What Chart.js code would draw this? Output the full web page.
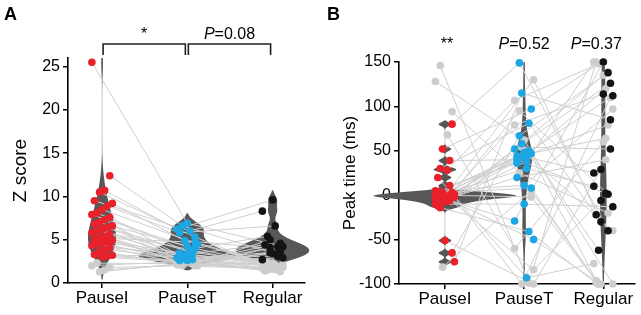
<!DOCTYPE html>
<html>
<head>
<meta charset="utf-8">
<script src="https://cdn.jsdelivr.net/npm/chart.js@4.4.1/dist/chart.umd.min.js"></script>
<style>
  html, body { margin: 0; padding: 0; background: #fff; }
  #wrap { position: relative; width: 641px; height: 315px; }
  .pane { position: absolute; top: 0; height: 315px; }
</style>
</head>
<body>
<div id="wrap">
  <div class="pane" style="left:0;width:320px"><canvas id="panelA"></canvas></div>
  <div class="pane" style="left:320px;width:321px"><canvas id="panelB"></canvas></div>
</div>
<script>
const categories = ['PauseI', 'PauseT', 'Regular'];
const zTicks = [0, 5, 10, 15, 20, 25];
const tTicks = [-100, -50, 0, 50, 100, 150];
const sigLabelsA = ['*', 'P=0.08'];
const sigLabelsB = ['**', 'P=0.52', 'P=0.37'];
const Z_SIG = 2.5;

// one entry per neuron (same order in every array)
const zPauseI = [25.5, 12.4, 10.7, 10.5, 9.5, 9.2, 8.9, 8.5, 8.1, 7.9, 7.6, 7.3, 7.0, 6.8, 6.6, 6.4, 6.2, 6.0, 5.8, 5.6,
                 5.4, 5.2, 5.0, 4.9, 4.8, 4.6, 4.5, 4.3, 4.1, 3.9, 3.6, 3.3, 3.2, 3.1, 3.0, 2.3, 2.0, 1.8, 1.5, 1.3];
const zPauseT = [6.9, 6.6, 6.2, 5.3, 6.0, 4.9, 5.8, 4.5, 3.4, 4.2, 3.0, 2.2, 4.0, 3.6, 2.8, 3.2, 2.0, 3.8, 2.6, 3.1,
                 2.4, 4.7, 2.9, 2.3, 3.5, 2.1, 2.7, 3.3, 2.2, 2.9, 2.0, 3.0, 2.4, 2.6, 2.3, 2.2, 2.5, 2.0, 2.1, 2.4];
const zRegular = [4.2, 3.3, 9.6, 2.0, 8.3, 3.9, 6.6, 2.2, 4.4, 1.8, 3.1, 1.6, 5.4, 2.4, 3.6, 1.9, 4.1, 2.1, 2.9, 1.5,
                  3.4, 2.3, 1.7, 4.6, 2.0, 3.5, 1.4, 2.2, 4.2, 1.9, 2.4, 2.7, 1.3, 2.1, 5.0, 1.8, 2.0, 1.6, 2.3, 1.5];

// peak time (ms)
const tPauseI = [2, 80, -5, 52, 0, -75, 39, -3, 30, 5, -65, 28, -8, 20, -1, 11, -51, 4, -10, 3,
                 -2, 3, -12, 1, -6, 0, -14, -4, 2, -7, 0, -1, -2, -3, -1, 146, 128, 94, 68, -81];
const tPauseT = [45, 149, -29, 97, 43, 115, 40, -50, 81, 11, 67, 107, 47, -93, 58, 36, -100, 50, -10, 42,
                 79, 8, 38, 54, 44, -84, -41, 48, 95, 52, -2, 30, -100, 20, 130, -99, 62, 25, -60, 5];
const tRegular = [112, -40, 150, 148, 25, 85, 2, -100, -22, 97, 138, 150, -62, -77, 126, 120, 29, -96, -13, 79,
                  114, -100, 150, 52, 64, -6, -99, -40, 1, 135, -100, 10, 110, 40, -30, 150, -100, -20, 60, -100];

const groupColors = ['#e8212b', '#1ca7e4', '#141414'];
const FONT = '"Liberation Sans", Arial, Helvetica, sans-serif';
Chart.defaults.font.family = FONT;
Chart.defaults.font.size = 16;
Chart.defaults.color = '#000';

function median(a) {
  const s = [...a].sort((p, q) => p - q), m = s.length >> 1;
  return s.length % 2 ? s[m] : (s[m - 1] + s[m]) / 2;
}
function bandwidth(vals) {
  const med = median(vals);
  const sig = median(vals.map(v => Math.abs(v - med))) / 0.6745;
  return sig * Math.pow(4 / (3 * vals.length), 0.2);
}
function density(vals, h, y) {
  let s = 0;
  for (const v of vals) { const u = (y - v) / h; s += Math.exp(-0.5 * u * u); }
  return s / (h * Math.sqrt(2 * Math.PI));
}

const violinPlugin = {
  id: 'violins',
  beforeDatasetsDraw(chart, args, opts) {
    const { ctx, scales: { x, y } } = chart;
    const pxPerUnit = Math.abs(y.getPixelForValue(1) - y.getPixelForValue(0));
    opts.groups.forEach((vals, c) => {
      const cx = x.getPixelForValue(c + 1);
      const h = bandwidth(vals) * opts.bw[c];
      const vmin = Math.min(...vals), vmax = Math.max(...vals);
      ctx.save();
      ctx.strokeStyle = '#d2d2d2';
      ctx.lineWidth = 1.2;
      ctx.beginPath();
      ctx.moveTo(cx, y.getPixelForValue(vmin));
      ctx.lineTo(cx, y.getPixelForValue(vmax));
      ctx.stroke();
      const top = y.getPixelForValue(Math.min(vmax + 2 * h, y.max));
      const bot = y.getPixelForValue(Math.max(vmin - 2 * h, y.min));
      const side = [];
      for (let py = top; py <= bot; py += 0.5) {
        side.push([py, density(vals, h, y.getValueForPixel(py)) / pxPerUnit * opts.scale[c]]);
      }
      ctx.beginPath();
      side.forEach(([py, w], k) => k ? ctx.lineTo(cx + w, py) : ctx.moveTo(cx + w, py));
      for (let k = side.length - 1; k >= 0; k--) ctx.lineTo(cx - side[k][1], side[k][0]);
      ctx.closePath();
      ctx.fillStyle = '#575757';
      ctx.fill();
      ctx.restore();
    });
  }
};

function drawLabel(ctx, text, cx, baseY) {
  const italic = text.startsWith('P');
  const head = italic ? 'P' : '', rest = italic ? text.slice(1) : text;
  ctx.font = 'italic 16px ' + FONT;
  const wh = ctx.measureText(head).width;
  ctx.font = '16px ' + FONT;
  const wr = ctx.measureText(rest).width;
  const x0 = cx - (wh + wr) / 2;
  ctx.textBaseline = 'alphabetic';
  ctx.textAlign = 'left';
  ctx.fillStyle = '#000';
  if (italic) { ctx.font = 'italic 16px ' + FONT; ctx.fillText(head, x0, baseY); }
  ctx.font = '16px ' + FONT;
  ctx.fillText(rest, x0 + wh, baseY);
}

const notesPlugin = {
  id: 'notes',
  afterDraw(chart, args, opts) {
    const { ctx, scales: { x } } = chart;
    ctx.save();
    ctx.fillStyle = '#000';
    ctx.font = 'bold 18px ' + FONT;
    ctx.textBaseline = 'alphabetic';
    ctx.fillText(opts.letter, opts.letterX, 20);
    if (opts.brackets) {
      ctx.strokeStyle = '#222';
      ctx.lineWidth = 1.6;
      opts.labels.forEach((txt, k) => {
        const a = x.getPixelForValue(k + 1) + 1, b = x.getPixelForValue(k + 2) - 2;
        ctx.beginPath();
        ctx.moveTo(a, 55); ctx.lineTo(a, 44); ctx.lineTo(b, 44); ctx.lineTo(b, 55);
        ctx.stroke();
        drawLabel(ctx, txt, (a + b) / 2, 39);
      });
    } else {
      opts.labels.forEach((txt, k) => {
        const cx = x.getPixelForValue(k + 1) + (k === 2 ? -7 : k === 0 ? 2 : 0);
        drawLabel(ctx, txt, cx, 49);
      });
    }
    ctx.restore();
  }
};

function makePanel(id, o) {
  const idx = o.values[0].map((_, i) => i);
  const sig = (c, i) => o.zvals[c][i] > Z_SIG;
  const jit = (i, c) => (((i * 7 + c * 4) % 9) - 4) * 0.03;
  const pt = (c, i) => ({ x: c + 1 + jit(i, c), y: o.values[c][i] });

  const colored = categories.map((name, c) => ({
    label: name,
    data: idx.filter(i => sig(c, i)).map(i => pt(c, i)),
    backgroundColor: groupColors[c], pointRadius: 3.8, borderWidth: 0, order: 0, clip: false
  }));
  const grayPts = {
    label: 'n.s.',
    data: categories.flatMap((_, c) => idx.filter(i => !sig(c, i)).map(i => pt(c, i))),
    backgroundColor: '#cdcdcd', pointRadius: 3.8, borderWidth: 0, order: 1, clip: false
  };
  const lines = idx.map(i => ({
    data: [0, 1, 2].map(c => pt(c, i)),
    showLine: true, borderColor: '#cfcfcf', borderWidth: 1, pointRadius: 0, order: 2, clip: false
  }));

  new Chart(document.getElementById(id), {
    type: 'scatter',
    data: { datasets: [...colored, grayPts, ...lines] },
    plugins: [violinPlugin, notesPlugin],
    options: {
      responsive: true,
      maintainAspectRatio: false,
      animation: false,
      layout: { padding: { top: o.top, right: o.right, left: 0, bottom: 0 } },
      plugins: {
        legend: { display: false },
        tooltip: { enabled: false },
        violins: {
          groups: categories.map((_, c) => idx.filter(i => sig(c, i)).map(i => o.values[c][i])),
          scale: o.violinScale, bw: o.violinBw
        },
        notes: o.notes
      },
      scales: {
        x: {
          type: 'linear', min: o.xmin, max: o.xmax,
          afterBuildTicks: s => { s.ticks = [1, 2, 3].map(v => ({ value: v })); },
          afterFit: s => { s.height = o.xHeight; },
          ticks: { callback: v => categories[v - 1], padding: 0, maxRotation: 0, autoSkip: false, font: { size: 17 } },
          grid: { drawOnChartArea: false, tickLength: 5, color: '#000', lineWidth: 1.5 },
          border: { color: '#000', width: 1.6 }
        },
        y: {
          min: o.ymin, max: o.ymax,
          afterBuildTicks: s => { s.ticks = o.ticks.map(v => ({ value: v })); },
          afterFit: s => { s.width = o.yWidth; },
          ticks: { padding: 3 },
          grid: { drawOnChartArea: false, tickLength: 5, color: '#000', lineWidth: 1.5 },
          border: { color: '#000', width: 1.6 },
          title: { display: true, text: o.title, font: { size: o.titleSize }, padding: { top: o.titlePad, bottom: 0 } }
        }
      }
    }
  });
}

makePanel('panelA', {
  values: [zPauseI, zPauseT, zRegular], zvals: [zPauseI, zPauseT, zRegular],
  ticks: zTicks, ymin: 0, ymax: 26, xmin: 0.6, xmax: 3.38,
  top: 58, right: 15, yWidth: 68, xHeight: 32, title: 'Z score', titleSize: 19, titlePad: 9,
  violinScale: [24, 46, 52], violinBw: [1, 1, 0.8],
  notes: { letter: 'A', letterX: 4, labels: sigLabelsA, brackets: true }
});
makePanel('panelB', {
  values: [tPauseI, tPauseT, tRegular], zvals: [zPauseI, zPauseT, zRegular],
  ticks: tTicks, ymin: -100, ymax: 150, xmin: 0.42, xmax: 3.4,
  top: 62, right: 6, yWidth: 79, xHeight: 31, title: 'Peak time (ms)', titleSize: 17, titlePad: 20,
  violinScale: [30, 22, 30], violinBw: [0.55, 1, 1],
  notes: { letter: 'B', letterX: 7, labels: sigLabelsB, brackets: false }
});
</script>
</body>
</html>
